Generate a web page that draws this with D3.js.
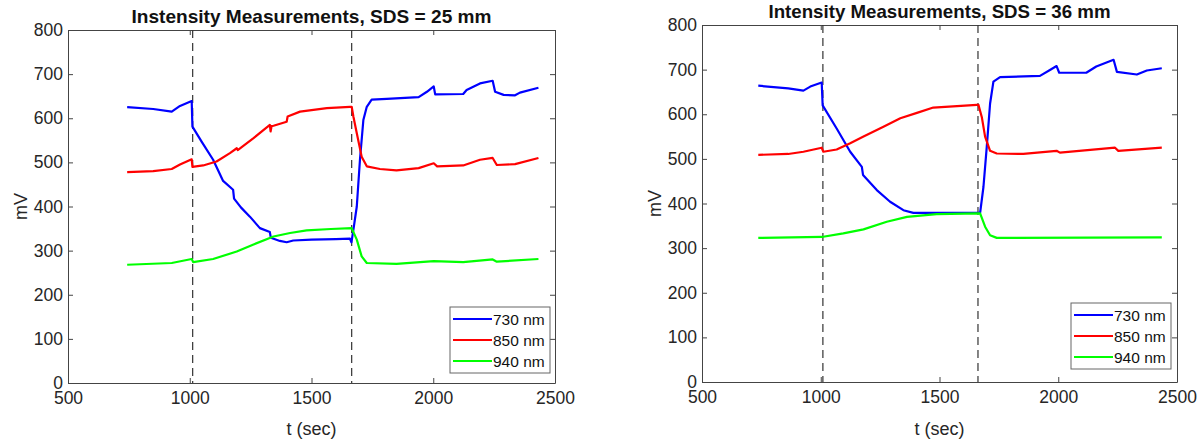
<!DOCTYPE html>
<html>
  <head>
    <meta http-equiv="Content-Type" content="text/html;charset=utf-8"/>
    <title>Intensity Measurements</title>
    <script src="https://cdn.jsdelivr.net/npm/d3@7"></script>
    <style>
      body { margin: 0; background: #fff; }
      text { font-family: "Liberation Sans", Arial, sans-serif; }
    </style>
  </head>
  <body>
    <svg id="target"></svg>
  </body>
  <script>
    // values: [t (sec), mV]
    var blue25 = [ [743,625],[850,621],[926,615],[960,628],[1008,639],[1011,581],[1050,546],[1096,506],
      [1137,458],[1178,438],[1182,418],[1210,398],[1247,377],[1288,351],[1329,342],[1333,329],[1370,322],
      [1398,319],[1425,323],[1500,325],[1600,326],[1658,327],[1664,319],[1672,347],[1686,400],[1699,506],
      [1713,596],[1727,626],[1747,642],[1809,644],[1940,648],[1974,660],[2002,672],[2008,654],[2123,655],
      [2137,664],[2192,679],[2244,685],[2254,660],[2289,653],[2336,652],[2356,658],[2432,669] ];
    var red25 = [ [743,478],[850,480],[926,485],[960,495],[1008,507],[1011,490],[1055,493],[1110,502],
      [1165,521],[1193,532],[1197,528],[1262,555],[1329,585],[1332,570],[1336,582],[1344,583],[1398,592],
      [1402,604],[1453,615],[1563,623],[1658,626],[1665,626],[1672,604],[1686,566],[1706,513],[1727,491],
      [1781,485],[1849,482],[1940,487],[2002,498],[2016,491],[2123,493],[2192,506],[2244,510],[2261,494],
      [2336,496],[2432,510] ];
    var green25 = [ [743,268],[926,272],[1008,281],[1014,274],[1096,281],[1193,298],[1262,314],[1344,332],
      [1412,340],[1480,346],[1580,349],[1665,351],[1686,325],[1706,287],[1727,272],[1849,270],[2002,276],
      [2123,274],[2244,280],[2261,275],[2432,281] ];

    var blue36 = [ [737,664],[863,658],[927,653],[956,662],[1004,671],[1008,620],[1067,568],[1124,516],
      [1173,482],[1178,464],[1236,430],[1292,404],[1348,385],[1390,379],[1668,379],[1671,379],[1685,437],
      [1699,527],[1713,624],[1727,673],[1755,683],[1923,686],[1965,699],[1993,708],[2004,693],[2118,693],
      [2160,707],[2233,722],[2247,695],[2331,689],[2373,698],[2436,703] ];
    var red36 = [ [737,509],[863,511],[927,516],[1004,525],[1011,516],[1067,521],[1124,535],[1180,550],
      [1264,572],[1335,591],[1405,603],[1474,615],[1657,621],[1664,621],[1678,594],[1692,550],[1713,518],
      [1741,512],[1853,511],[1993,518],[2007,514],[2239,525],[2253,518],[2436,525] ];
    var green36 = [ [737,323],[1004,325],[1095,333],[1180,342],[1278,359],[1363,370],[1488,376],[1668,378],
      [1671,378],[1692,348],[1713,329],[1741,323],[2436,324] ];

    var seriesNames = [ "730 nm", "850 nm", "940 nm" ];
    var seriesColors = [ "#0000ff", "#ff0000", "#00ff00" ];
    var xTicks = [ 500, 1000, 1500, 2000, 2500 ];
    var yTicks = [ 0, 100, 200, 300, 400, 500, 600, 700, 800 ];
    var markers25 = [ 1012, 1665 ];
    var markers36 = [ 1009, 1662 ];

    var svg = d3.select( "#target" ).attr( "width", 1202 ).attr( "height", 444 );

    function drawPanel( opt ) {
      var x = d3.scaleLinear().domain( [500, 2500] ).range( [opt.left, opt.right] );
      var y = d3.scaleLinear().domain( [0, 800] ).range( [opt.bottom, opt.top] );
      var g = svg.append( "g" );
      var fmt = d3.format( "d" );

      // inward ticks on all four sides, like a boxed matlab axes
      var axes = [
        [ d3.axisBottom( x ).tickValues( xTicks ).tickFormat( fmt ).tickPadding( 9 ), 0, opt.bottom ],
        [ d3.axisTop( x ).tickValues( xTicks ).tickFormat( "" ), 0, opt.top ],
        [ d3.axisLeft( y ).tickValues( yTicks ).tickFormat( fmt ).tickPadding( 5 ), opt.left, 0 ],
        [ d3.axisRight( y ).tickValues( yTicks ).tickFormat( "" ), opt.right, 0 ]
      ];
      axes.forEach( function( a ) {
        var ax = g.append( "g" )
          .attr( "transform", "translate(" + a[1] + "," + a[2] + ")" )
          .call( a[0].tickSizeInner( -5 ).tickSizeOuter( 0 ) );
        ax.select( ".domain" ).attr( "stroke", "#444" );
        ax.selectAll( ".tick line" ).attr( "stroke", "#444" );
        ax.selectAll( "text" ).attr( "fill", "#262626" ).style( "font-size", "17.5px" );
      } );

      // dashed event markers
      g.selectAll( "line.marker" ).data( opt.markers )
        .enter().append( "line" )
          .attr( "x1", d => x( d ) ).attr( "x2", d => x( d ) )
          .attr( "y1", opt.top ).attr( "y2", opt.bottom )
          .attr( "stroke", "#333" ).attr( "stroke-width", 1.2 )
          .attr( "stroke-dasharray", "8,5" );

      var line = d3.line().x( d => x( d[0] ) ).y( d => y( d[1] ) );
      g.selectAll( "path.series" ).data( opt.series )
        .enter().append( "path" )
          .attr( "d", line )
          .attr( "fill", "none" )
          .attr( "stroke", ( d, i ) => seriesColors[i] )
          .attr( "stroke-width", 2.2 )
          .attr( "stroke-linejoin", "round" );

      g.append( "text" )
        .attr( "x", ( opt.left + opt.right ) / 2 ).attr( "y", opt.top - 7 )
        .attr( "text-anchor", "middle" ).attr( "fill", "#111" )
        .attr( "textLength", opt.titleWidth ).attr( "lengthAdjust", "spacingAndGlyphs" )
        .style( "font-size", "18.5px" ).style( "font-weight", "bold" )
        .text( opt.title );

      g.append( "text" )
        .attr( "x", ( opt.left + opt.right ) / 2 ).attr( "y", 435 )
        .attr( "text-anchor", "middle" ).attr( "fill", "#262626" )
        .style( "font-size", "18px" )
        .text( "t (sec)" );

      g.append( "text" )
        .attr( "transform", "translate(" + ( opt.left - 41 ) + "," + ( ( opt.top + opt.bottom ) / 2 ) + ") rotate(-90)" )
        .attr( "text-anchor", "middle" ).attr( "fill", "#262626" )
        .style( "font-size", "18px" )
        .text( "mV" );

      // legend
      var lg = g.append( "g" ).attr( "transform", "translate(" + opt.legend[0] + "," + opt.legend[1] + ")" );
      lg.append( "rect" ).attr( "width", 100 ).attr( "height", 66 )
        .attr( "fill", "#fff" ).attr( "stroke", "#666" );
      seriesNames.forEach( function( name, i ) {
        lg.append( "line" ).attr( "x1", 3 ).attr( "x2", 42 )
          .attr( "y1", 12 + i * 21 ).attr( "y2", 12 + i * 21 )
          .attr( "stroke", seriesColors[i] ).attr( "stroke-width", 2 );
        lg.append( "text" ).attr( "x", 43 ).attr( "y", 18 + i * 21 )
          .attr( "fill", "#111" ).style( "font-size", "15.5px" )
          .text( name );
      } );
    }

    drawPanel( {
      left: 68, right: 555, top: 30, bottom: 383,
      title: "Instensity Measurements, SDS = 25 mm", titleWidth: 360,
      series: [ blue25, red25, green25 ], markers: markers25,
      legend: [ 450, 307 ]
    } );

    drawPanel( {
      left: 702, right: 1177, top: 25, bottom: 382,
      title: "Intensity Measurements, SDS = 36 mm", titleWidth: 342,
      series: [ blue36, red36, green36 ], markers: markers36,
      legend: [ 1071, 303 ]
    } );
  </script>
</html>
